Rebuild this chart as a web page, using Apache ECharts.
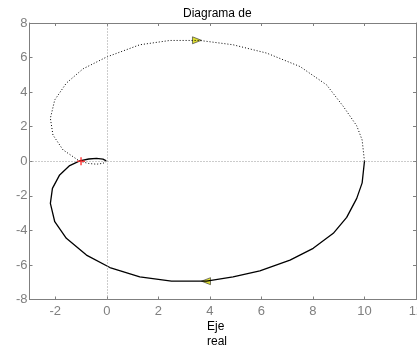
<!DOCTYPE html>
<html><head><meta charset="utf-8">
<script src="https://cdn.jsdelivr.net/npm/echarts@6/dist/echarts.min.js"></script>
<style>html,body{margin:0;padding:0;background:#fff}#c{width:417px;height:347px}</style>
</head><body><div id="c"></div>
<script>
var titleText = 'Diagrama de';
var xLabelText = 'Eje\nreal';
var xTicks = [-2, 0, 2, 4, 6, 8, 10, 12];
var yTicks = [-8, -6, -4, -2, 0, 2, 4, 6, 8];
var xRange = [-3, 12];
var yRange = [-8, 8];
// positive-frequency branch (solid)
var solidX = [10, 9.91, 9.70, 9.31, 8.79, 8.01, 7.11, 5.94, 4.90, 3.87, 2.51, 1.28, 0.12, -0.79, -1.57, -2.02, -2.19, -2.11, -1.83, -1.44, -1.05, -0.70, -0.40, -0.15, -0.02];
var solidY = [0, -1.25, -2.15, -3.25, -4.17, -5.04, -5.72, -6.34, -6.69, -6.94, -6.94, -6.69, -6.15, -5.43, -4.46, -3.50, -2.44, -1.57, -0.79, -0.25, 0.02, 0.13, 0.17, 0.12, 0.02];
// negative-frequency branch (dotted)
var dotX = [10, 9.91, 9.70, 9.18, 8.53, 7.50, 6.20, 4.90, 3.61, 2.45, 1.28, -0.01, -0.92, -1.57, -2.02, -2.19, -2.09, -1.70, -1.05, -0.70, -0.40, -0.15, -0.02];
var dotY = [0, 1.23, 2.05, 3.17, 4.42, 5.48, 6.26, 6.74, 6.99, 6.99, 6.74, 6.03, 5.35, 4.52, 3.55, 2.49, 1.52, 0.66, 0, -0.13, -0.17, -0.12, -0.02];
var arrowPts = [[3.5, 7.0, -90], [3.85, -6.94, 90]];
var criticalPt = [-1, 0];

function zip(a, b) { return a.map(function (v, i) { return [v, b[i]]; }); }
var gray = '#7f7f7f';
var lblStyle = { color: gray, fontFamily: 'Liberation Sans, Arial, sans-serif', fontSize: 13 };
var chart = echarts.init(document.getElementById('c'), null, { renderer: 'canvas' });
function xa(pos, show) {
  return {
    type: 'value', position: pos, min: xRange[0], max: xRange[1],
    axisLine: { show: true, onZero: false, lineStyle: { color: gray, width: 1 } },
    axisTick: { show: true, inside: true, length: 3, customValues: xTicks, lineStyle: { color: gray } },
    axisLabel: Object.assign({ show: show, customValues: xTicks, margin: 5, hideOverlap: false }, lblStyle),
    splitLine: { show: false }
  };
}
function ya(pos, show) {
  return {
    type: 'value', position: pos, min: yRange[0], max: yRange[1],
    axisLine: { show: true, onZero: false, lineStyle: { color: gray, width: 1 } },
    axisTick: { show: true, inside: true, length: 3, customValues: yTicks, lineStyle: { color: gray } },
    axisLabel: Object.assign({ show: show, customValues: yTicks, margin: 2 }, lblStyle),
    splitLine: { show: false }
  };
}
chart.setOption({
  animation: false,
  backgroundColor: '#fff',
  grid: { left: 29.5, right: 1, top: 23, bottom: 47.5, containLabel: false, outerBoundsMode: 'none' },
  xAxis: [xa('bottom', true), xa('top', false)],
  yAxis: [ya('left', true), ya('right', false)],
  graphic: [
    { type: 'text', left: 183, top: 8, style: { text: titleText, fill: '#000', font: '12px "Liberation Sans", Arial, sans-serif' } },
    { type: 'text', left: 207, top: 319, style: { text: xLabelText, fill: '#000', font: '12px "Liberation Sans", Arial, sans-serif', lineHeight: 15 } }
  ],
  series: [
    {
      type: 'line', data: [], xAxisIndex: 0, yAxisIndex: 0, silent: true,
      markLine: {
        symbol: 'none', silent: true, label: { show: false },
        lineStyle: { color: '#999', type: [1, 2], width: 1 },
        data: [{ xAxis: 0 }, { yAxis: 0 }]
      }
    },
    {
      type: 'line', data: zip(dotX, dotY), showSymbol: false, smooth: false,
      lineStyle: { color: '#000', width: 1, type: [1, 2] }
    },
    {
      type: 'line', data: zip(solidX, solidY), showSymbol: false, smooth: false,
      lineStyle: { color: '#000', width: 1.3 }
    },
    {
      type: 'scatter', data: arrowPts.map(function (p) { return { value: [p[0], p[1]], symbolRotate: p[2] }; }),
      symbol: 'triangle', symbolSize: [7, 9],
      itemStyle: { color: '#d6d600', borderColor: '#333', borderWidth: 0.8 }
    },
    {
      type: 'scatter', data: [criticalPt], symbol: 'path://M4,0 L6,0 L6,4 L10,4 L10,6 L6,6 L6,10 L4,10 L4,6 L0,6 L0,4 L4,4 Z',
      symbolSize: 8, itemStyle: { color: '#ff2020' }, z: 10
    }
  ]
});
</script></body></html>
